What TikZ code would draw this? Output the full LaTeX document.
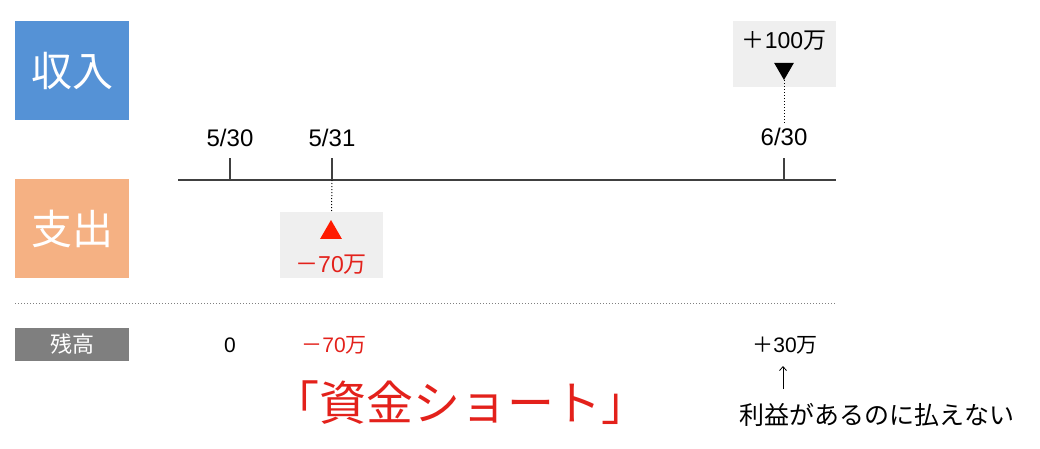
\documentclass[tikz,border=0pt]{standalone}
\usepackage{fontspec}
\setmainfont{Liberation Sans}
\newfontfamily\jp{Noto Sans CJK JP}
\usetikzlibrary{shapes.geometric,arrows.meta}
\definecolor{inblue}{HTML}{5592D6}
\definecolor{outorange}{HTML}{F5B183}
\definecolor{balgray}{HTML}{7F7F7F}
\definecolor{boxgray}{HTML}{EFEFEF}
\definecolor{shortred}{HTML}{E3211B}
\definecolor{trired}{HTML}{FF1A00}
\definecolor{axisgray}{HTML}{404040}

\begin{document}
\begin{tikzpicture}[x=1pt,y=-1pt,
	catbox/.style={minimum width=114pt,minimum height=99pt,inner sep=0pt,text=white,font=\jp\fontsize{41}{43}\selectfont},
	amtbox/.style={fill=boxgray,minimum width=103pt,minimum height=66pt,inner sep=0pt},
	datelbl/.style={font=\fontsize{24}{26}\selectfont},
	amtlbl/.style={font=\fontsize{23}{25}\selectfont},
	ballbl/.style={font=\fontsize{21}{23}\selectfont},
	tri/.style={regular polygon,regular polygon sides=3,inner sep=0pt,minimum size=25pt},
	tick/.style={axisgray,line width=1.3pt},
	dots/.style={dash pattern=on 1pt off 2pt,line width=1pt}]
	\useasboundingbox (0,0) rectangle (1040,448);
	% categories
	\node[catbox,fill=inblue] (inc) at (72,70.5) {収入};
	\node[catbox,fill=outorange] (exp) at (72,228.5) {支出};
	\node[fill=balgray,minimum width=114pt,minimum height=33pt,inner sep=0pt,text=white,font=\jp\fontsize{22}{24}\selectfont] (bal) at (72,344.5) {残高};
	
	% time axis
	\coordinate (ax1) at (178,180);
	\coordinate (ax2) at (836,180);
	\coordinate (d530) at (230,180);
	\coordinate (d531) at (332,180);
	\coordinate (d630) at (784,180);
	\draw[axisgray,line width=1.6pt] (ax1) -- (ax2);
	\draw[tick] (d530) -- ++(0,-22);
	\draw[tick] (d531) -- ++(0,-22);
	\draw[tick] (d630) -- ++(0,-22);
	\node[datelbl] (l530) at (230,138) {5/30};
	\node[datelbl] (l531) at (332,138) {5/31};
	\node[datelbl] (l630) at (784,137) {6/30};
	
	% payment
	\node[amtbox] (pay) at (331.5,245) {};
	\node[tri,fill=trired] (paytri) at (331,232.5) {};
	\node[amtlbl,text=shortred] (paytxt) at (331,265) {{\jp －}70{\jp 万}};
	\draw[dots] (d531) -- (pay.north);
	
	% receipt
	\node[amtbox] (rec) at (784.5,54) {};
	\node[tri,fill=black,shape border rotate=180,minimum size=23pt] (rectri) at (784,68.5) {};
	\node[amtlbl] (rectxt) at (784,41) {{\jp ＋}100{\jp 万}};
	\draw[dots] (rectri.south) -- (l630.north);
	
	\draw[dots,gray] (15,303) -- (836,303);
	
	% balance
	\node[ballbl] (b530) at (230,345) {0};
	\node[ballbl,text=shortred] (b531) at (334,345) {{\jp －}70{\jp 万}};
	\node[ballbl] (b630) at (785,345) {{\jp ＋}30{\jp 万}};
	\node[font=\jp\fontsize{25}{27}\selectfont] (note) at (877,415) {利益があるのに払えない};
	\coordinate (arr1) at (783,389);
	\coordinate (arr2) at (783,366);
	\draw[-{Straight Barb[length=4pt,width=7pt]},line width=0.8pt] (arr1) -- (arr2);
	\node[font=\jp\fontsize{47}{49}\selectfont,text=shortred] (short) at (460,403) {「資金ショート」};
\end{tikzpicture}
\end{document}
